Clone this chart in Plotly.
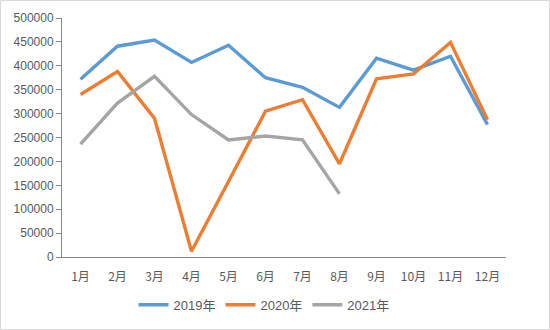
import plotly.graph_objects as go

months = ["1月", "2月", "3月", "4月", "5月", "6月", "7月", "8月", "9月", "10月", "11月", "12月"]
y2019 = [372000, 441000, 454000, 407000, 443000, 375000, 355000, 313000, 416000, 391000, 420000, 277000]
y2020 = [340000, 388000, 290000, 12000, 158000, 305000, 329000, 195000, 373000, 383000, 449000, 287000]
y2021 = [236000, 322000, 378000, 298000, 245000, 253000, 245000, 132000]
names = ["2019年", "2020年", "2021年"]
colors = ["#5B9BD5", "#ED7D31", "#A5A5A5"]
yticks = [0, 50000, 100000, 150000, 200000, 250000, 300000, 350000, 400000, 450000, 500000]

fig = go.Figure()
for name, vals, c in zip(names, [y2019, y2020, y2021], colors):
    fig.add_trace(go.Scatter(x=months[:len(vals)], y=vals, name=name, mode="lines",
                             line=dict(color=c, width=3.4)))

W, H = 550, 330
L, R, T, B = 62, 44, 18, 73
pw, ph = W - L - R, H - T - B

fig.update_layout(
    width=W, height=H,
    margin=dict(l=L, r=R, t=T, b=B, autoexpand=False),
    paper_bgcolor="white", plot_bgcolor="white",
    font=dict(family="Liberation Sans, Noto Sans CJK SC", size=12, color="#595959"),
    showlegend=True,
    legend=dict(orientation="h", x=0.455, xanchor="center", y=-0.2, yanchor="middle",
                font=dict(size=13, color="#595959"), itemwidth=30, tracegroupgap=0),
    xaxis=dict(type="category", categoryorder="array", categoryarray=months,
               showgrid=False, showline=True, linecolor="#868686", linewidth=1,
               ticks="", ticklabelstandoff=9, range=[-0.5, 11.5], zeroline=False,
               tickfont=dict(family="Noto Sans CJK SC", size=12, color="#595959")),
    yaxis=dict(range=[0, 500000], tickvals=yticks, ticktext=[str(v) for v in yticks],
               showgrid=False, showline=True, linecolor="#868686", linewidth=1,
               ticks="outside", ticklen=5, tickcolor="#868686", zeroline=False),
    shapes=[dict(type="rect", xref="paper", yref="paper",
                 x0=-(L - 0.5) / pw, x1=(W - L - 0.5) / pw,
                 y0=-(B - 0.5) / ph, y1=1 + (T - 0.5) / ph,
                 line=dict(color="#D9D9D9", width=1))],
)
fig.write_html("out.html")
